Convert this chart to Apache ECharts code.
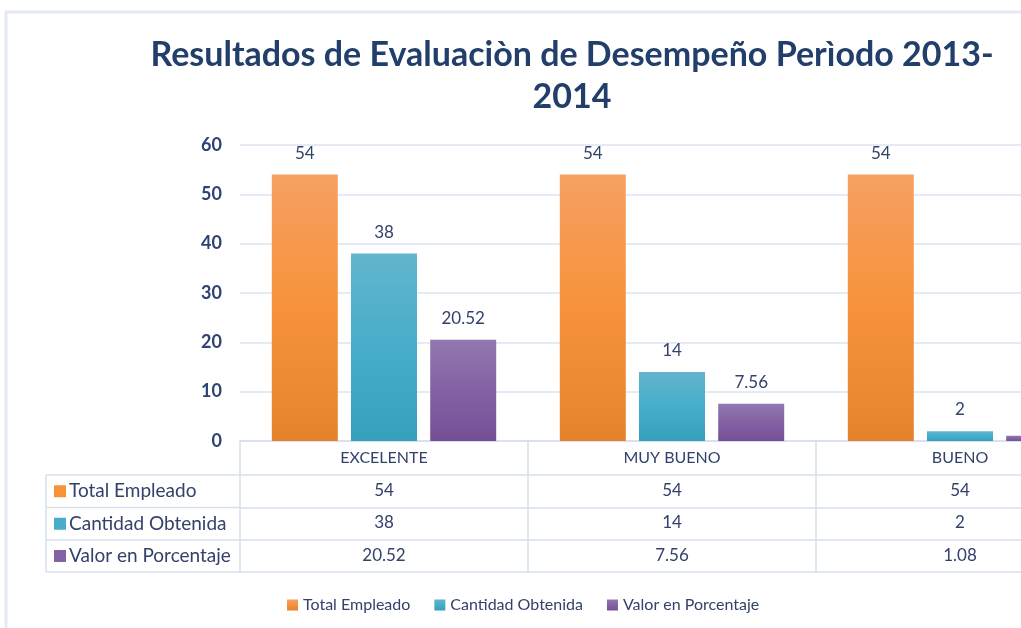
<!DOCTYPE html>
<html><head><meta charset="utf-8">
<script src="https://cdn.jsdelivr.net/npm/echarts@6/dist/echarts.min.js"></script>
<style>html,body{margin:0;padding:0;background:#fff}#c{width:1021px;height:628px}</style>
</head><body><div id="c"></div>
<script>
const categories = ['EXCELENTE', 'MUY BUENO', 'BUENO'];
const seriesNames = ['Total Empleado', 'Cantidad Obtenida', 'Valor en Porcentaje'];
const totalEmpleado = [54, 54, 54];
const cantidadObtenida = [38, 14, 2];
const valorPorcentaje = [20.52, 7.56, 1.08];
const yTicks = [0, 10, 20, 30, 40, 50, 60];

const FONT = "Lato, 'Open Sans', sans-serif";
const NAVY = '#33416B';
const LINE = '#D5E0EF';
const grad = (a, b, c) => ({type: 'linear', x: 0, y: 0, x2: 0, y2: 1,
  colorStops: [{offset: 0, color: a}, {offset: 0.5, color: b}, {offset: 1, color: c}]});
const colors = [
  grad('#F6A063', '#F7923A', '#E5832D'),
  grad('#63B5CD', '#47ADCA', '#36A0BC'),
  grad('#9278AF', '#8461A4', '#744F97')
];
const iconColors = ['#F7923A', '#47ADCA', '#8461A4'];
const rows = [totalEmpleado, cantidadObtenida, valorPorcentaje];

const gridLeft = 240, gridWidth = 864, axisY = 441, gridTop = 145;
const rowOffsets = [34, 66.5, 99, 131];
const tableLeft = 46;

const chart = echarts.init(document.getElementById('c'));

const xAxes = [{
  type: 'category', data: categories, gridIndex: 0, position: 'bottom',
  axisLine: {show: true, lineStyle: {color: LINE, width: 1.5}},
  axisTick: {show: true, alignWithLabel: false, interval: 0, length: rowOffsets[3], lineStyle: {color: LINE, width: 1.5}},
  axisLabel: {show: true, interval: 0, margin: 9, fontSize: 16, color: NAVY, fontFamily: FONT}
}];
rows.forEach((arr, i) => {
  xAxes.push({
    type: 'category', data: categories, gridIndex: 0, position: 'bottom', offset: rowOffsets[i],
    axisLine: {show: true, lineStyle: {color: LINE, width: 1.5}},
    axisTick: {show: false},
    axisLabel: {show: true, interval: 0, margin: 7, fontSize: 17, color: NAVY, fontFamily: FONT,
      formatter: (v, idx) => String(arr[idx])}
  });
});
xAxes.push({
  type: 'category', data: categories, gridIndex: 0, position: 'bottom', offset: rowOffsets[3],
  axisLine: {show: true, lineStyle: {color: LINE, width: 1.5}},
  axisTick: {show: false}, axisLabel: {show: false}
});

const graphics = [
  {type: 'rect', shape: {x: 6, y: 12, width: 1100, height: 700}, style: {fill: 'none', stroke: '#E3EAF5', lineWidth: 3}, silent: true},
  {type: 'line', shape: {x1: tableLeft, y1: axisY + rowOffsets[0], x2: tableLeft, y2: axisY + rowOffsets[3]}, style: {stroke: LINE, lineWidth: 1.5}}
];
for (let i = 0; i < 4; i++) {
  graphics.push({type: 'line', shape: {x1: tableLeft, y1: axisY + rowOffsets[i], x2: gridLeft, y2: axisY + rowOffsets[i]}, style: {stroke: LINE, lineWidth: 1.5}});
}
seriesNames.forEach((n, i) => {
  const cy = axisY + (rowOffsets[i] + rowOffsets[i + 1]) / 2;
  graphics.push({type: 'rect', shape: {x: 54, y: cy - 6, width: 12, height: 12}, style: {fill: iconColors[i]}});
  graphics.push({type: 'text', x: 69, y: cy, style: {text: n, fill: NAVY, font: '19px ' + FONT, textVerticalAlign: 'middle', textAlign: 'left'}});
});

chart.setOption({
  animation: false,
  title: {
    text: 'Resultados de Evaluaciòn de Desempeño Perìodo 2013-\n2014',
    left: 567, top: 29, textAlign: 'center',
    textStyle: {fontSize: 34, fontWeight: 'bold', color: '#223E6B', fontFamily: FONT, lineHeight: 42}
  },
  legend: {
    data: seriesNames, left: 282, top: 592, itemWidth: 11, itemHeight: 11, itemGap: 24, selectedMode: false, icon: 'rect',
    textStyle: {fontSize: 16, color: NAVY, fontFamily: FONT}
  },
  grid: {left: gridLeft, width: gridWidth, top: gridTop, bottom: 628 - axisY, containLabel: false, outerBoundsMode: 'none'},
  xAxis: xAxes,
  yAxis: {
    type: 'value', min: yTicks[0], max: yTicks[yTicks.length - 1], interval: 10,
    axisLine: {show: false}, axisTick: {show: false},
    splitLine: {lineStyle: {color: '#DCE5F2', width: 1.5}},
    axisLabel: {margin: 18, fontSize: 18, fontWeight: 'bold', color: '#2E4274', fontFamily: FONT}
  },
  series: [totalEmpleado, cantidadObtenida, valorPorcentaje].map((d, i) => ({
    name: seriesNames[i], type: 'bar', data: d, xAxisIndex: 0, barWidth: 66, barGap: '20%',
    itemStyle: {color: colors[i]},
    label: {show: true, position: 'top', distance: 13, fontSize: 17, color: NAVY, fontFamily: FONT}
  })),
  graphic: graphics
});
</script></body></html>
